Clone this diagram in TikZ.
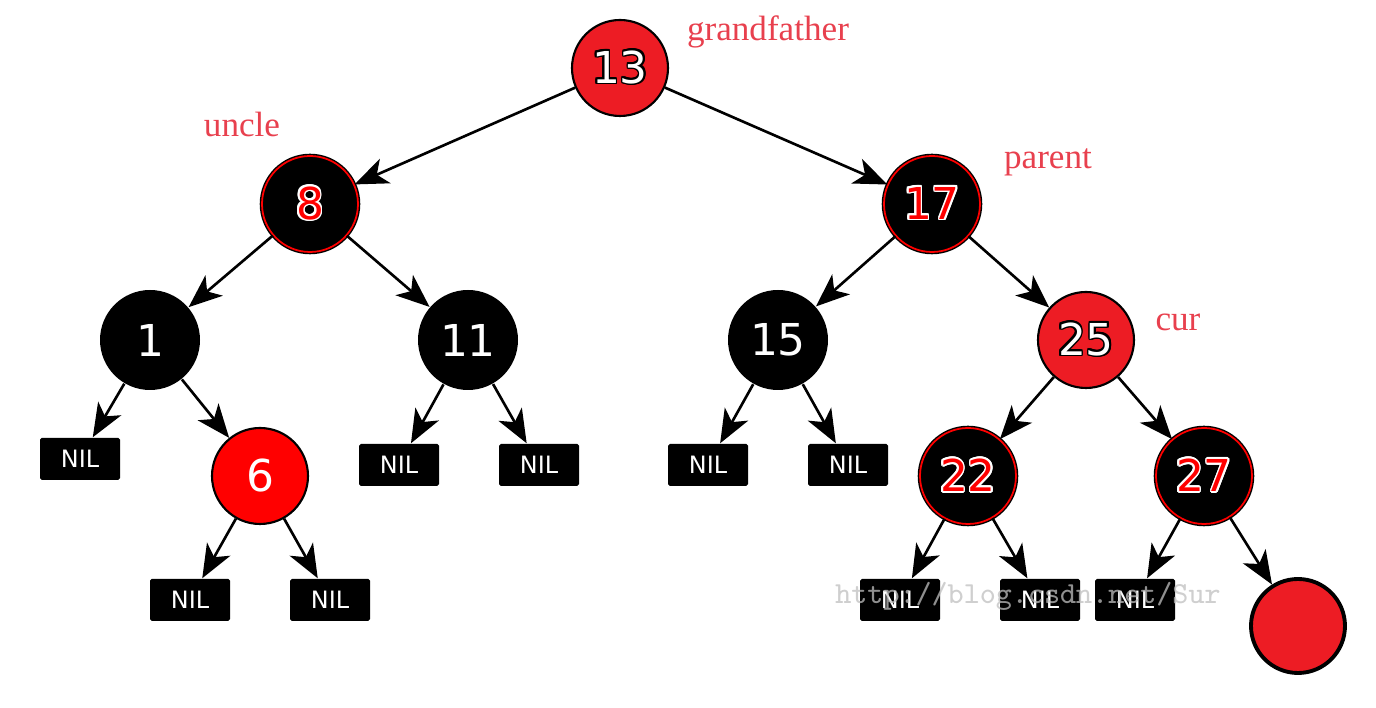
\documentclass[tikz,border=0pt]{standalone}
\usepackage{fontspec}
\setmainfont{Liberation Serif}
\setsansfont{DejaVu Sans}
\usepackage{contour}
\usetikzlibrary{arrows.meta}
\definecolor{rbred}{RGB}{237,28,36}
\definecolor{purered}{RGB}{255,0,0}
\definecolor{tagred}{RGB}{232,64,78}
\contourlength{0.5pt}
\contournumber{16}
% numbers with an outline
\newcommand{\wnum}[1]{\contour{black}{\textcolor{white}{#1}}}
\newcommand{\rnum}[1]{\contour{white}{\textcolor{purered}{#1}}}

\tikzset{
    keyfont/.style = {font=\sffamily\fontsize{12.5}{12.5}\selectfont},
    rednode/.style = {circle, fill=rbred, draw=black, line width=0.6pt,
        minimum size=0.96cm, inner sep=0pt, keyfont},
    blacknode/.style = {circle, fill=black, draw=black, double=purered,
        double distance=0.5pt, line width=0.4pt, minimum size=0.96cm,
        inner sep=0pt, keyfont},
    leafnode/.style = {circle, fill=black, minimum size=1.0cm,
        inner sep=0pt, text=white, keyfont},
    nilbox/.style = {rectangle, fill=black, rounded corners=0.5pt,
        minimum width=0.8cm, minimum height=0.42cm, inner sep=0pt,
        text=white, font=\sffamily\fontsize{6.8}{6.8}\selectfont},
    tag/.style = {text=tagred, font=\fontsize{10}{10}\selectfont},
    edge/.style = {line width=0.75pt,
        -{Stealth[length=9.5pt, width=7.6pt, inset=2.6pt]}}
}

\begin{document}
\begin{tikzpicture}
    \useasboundingbox (0,0) rectangle (13.76,-7.08);

    % inner nodes
    \node [rednode] (n13) at (6.20,-0.68) {\wnum{13}};
    \node [blacknode] (n8) at (3.10,-2.04) {\rnum{8}};
    \node [blacknode] (n17) at (9.32,-2.04) {\rnum{17}};
    \node [leafnode] (n1) at (1.50,-3.40) {1};
    \node [leafnode] (n11) at (4.68,-3.40) {11};
    \node [leafnode] (n15) at (7.78,-3.40) {15};
    \node [rednode] (n25) at (10.86,-3.40) {\wnum{25}};
    \node [circle, fill=purered, draw=black, line width=0.6pt,
        minimum size=0.96cm, inner sep=0pt, text=white, keyfont]
        (n6) at (2.60,-4.76) {6};
    \node [blacknode] (n22) at (9.68,-4.76) {\rnum{22}};
    \node [blacknode] (n27) at (12.04,-4.76) {\rnum{27}};
    \node [circle, fill=rbred, draw=black, line width=1.1pt,
        minimum size=0.94cm] (nnew) at (12.98,-6.26) {};

    % nil leaves
    \node [nilbox] (nil1) at (0.80,-4.59) {NIL};
    \node [nilbox] (nil6a) at (1.90,-6.00) {NIL};
    \node [nilbox] (nil6b) at (3.30,-6.00) {NIL};
    \node [nilbox] (nil11a) at (3.99,-4.65) {NIL};
    \node [nilbox] (nil11b) at (5.39,-4.65) {NIL};
    \node [nilbox] (nil15a) at (7.08,-4.65) {NIL};
    \node [nilbox] (nil15b) at (8.48,-4.65) {NIL};
    \node [nilbox] (nil22a) at (9.00,-6.00) {NIL};
    \node [nilbox] (nil22b) at (10.40,-6.00) {NIL};
    \node [nilbox] (nil27) at (11.35,-6.00) {NIL};

    % labels
    \node [tag] (tgrand) at (7.68,-0.32) {grandfather};
    \node [tag] (tuncle) at (2.42,-1.24) {uncle};
    \node [tag] (tparent) at (10.48,-1.62) {parent};
    \node [tag] (tcur) at (11.78,-3.22) {cur};

    % edges
    \draw [edge] (n13) -- (n8);
    \draw [edge] (n13) -- (n17);
    \draw [edge] (n8) -- (n1);
    \draw [edge] (n8) -- (n11);
    \draw [edge] (n17) -- (n15);
    \draw [edge] (n17) -- (n25);
    \draw [edge] (n1) -- (nil1);
    \draw [edge] (n1) -- (n6);
    \draw [edge] (n6) -- (nil6a);
    \draw [edge] (n6) -- (nil6b);
    \draw [edge] (n11) -- (nil11a);
    \draw [edge] (n11) -- (nil11b);
    \draw [edge] (n15) -- (nil15a);
    \draw [edge] (n15) -- (nil15b);
    \draw [edge] (n25) -- (n22);
    \draw [edge] (n25) -- (n27);
    \draw [edge] (n22) -- (nil22a);
    \draw [edge] (n22) -- (nil22b);
    \draw [edge] (n27) -- (nil27);
    \draw [edge] (n27) -- (nnew);

    % watermark over the bottom row
    \node [text=black!25, opacity=0.75,
        font=\ttfamily\fontsize{8.7}{8.7}\selectfont]
        (mark) at (10.28,-5.96) {http://blog.csdn.net/Sur};
\end{tikzpicture}
\end{document}
